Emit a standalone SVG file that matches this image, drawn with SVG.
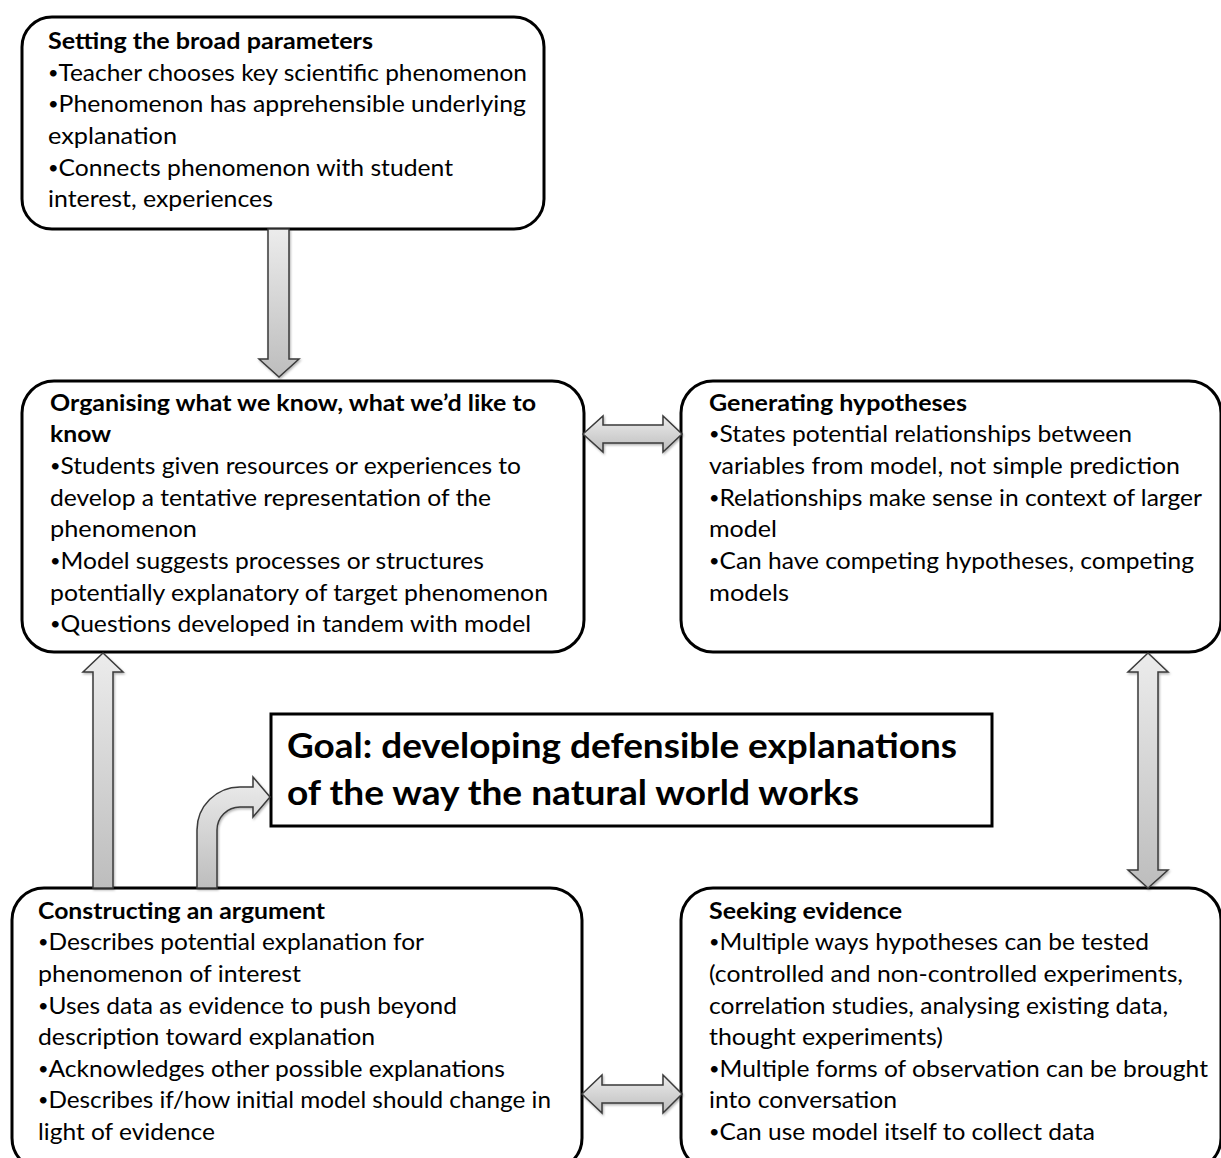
<svg xmlns="http://www.w3.org/2000/svg" width="1221" height="1158" viewBox="0 0 1221 1158">
<style>
.box{fill:#fff;stroke:#000;stroke-width:3}
.t{font-family:Lato,"Liberation Sans",sans-serif;font-size:23px;fill:#000}
.b{font-weight:bold}
.d{font-size:17px;baseline-shift:2px}
.g{font-family:Lato,"Liberation Sans",sans-serif;font-size:35px;font-weight:bold;fill:#000}
.arr{fill:url(#grad);stroke:#3a3a3a;stroke-width:1.5;stroke-linejoin:miter;filter:url(#sh)}
</style>
<defs>
<linearGradient id="grad" x1="0" y1="0" x2="0" y2="1">
<stop offset="0" stop-color="#ececec"/>
<stop offset="1" stop-color="#bdbdbd"/>
</linearGradient>
<filter id="sh" x="-20%" y="-20%" width="140%" height="140%">
<feDropShadow dx="1" dy="1.5" stdDeviation="1.2" flood-color="#000" flood-opacity="0.3"/>
</filter>
</defs>
<rect width="1221" height="1158" fill="#fff"/>

<g id="setting">
<rect class="box" x="22" y="17" width="522" height="212" rx="30"/>
<text class="t b" x="48" y="49" textLength="325" lengthAdjust="spacingAndGlyphs">Setting the broad parameters</text>
<text class="t" x="48" y="81" textLength="479" lengthAdjust="spacingAndGlyphs"><tspan class="d">•</tspan>Teacher chooses key scientific phenomenon</text>
<text class="t" x="48" y="112" textLength="478" lengthAdjust="spacingAndGlyphs"><tspan class="d">•</tspan>Phenomenon has apprehensible underlying</text>
<text class="t" x="48" y="144" textLength="129" lengthAdjust="spacingAndGlyphs">explanation</text>
<text class="t" x="48" y="176" textLength="405" lengthAdjust="spacingAndGlyphs"><tspan class="d">•</tspan>Connects phenomenon with student</text>
<text class="t" x="48" y="207" textLength="225" lengthAdjust="spacingAndGlyphs">interest, experiences</text>
</g>

<g id="organising">
<rect class="box" x="22" y="381" width="562" height="271" rx="32"/>
<text class="t b" x="50" y="411" textLength="486" lengthAdjust="spacingAndGlyphs">Organising what we know, what we’d like to</text>
<text class="t b" x="50" y="442" textLength="61" lengthAdjust="spacingAndGlyphs">know</text>
<text class="t" x="50" y="474" textLength="471" lengthAdjust="spacingAndGlyphs"><tspan class="d">•</tspan>Students given resources or experiences to</text>
<text class="t" x="50" y="506" textLength="441" lengthAdjust="spacingAndGlyphs">develop a tentative representation of the</text>
<text class="t" x="50" y="537" textLength="147" lengthAdjust="spacingAndGlyphs">phenomenon</text>
<text class="t" x="50" y="569" textLength="434" lengthAdjust="spacingAndGlyphs"><tspan class="d">•</tspan>Model suggests processes or structures</text>
<text class="t" x="50" y="601" textLength="498" lengthAdjust="spacingAndGlyphs">potentially explanatory of target phenomenon</text>
<text class="t" x="50" y="632" textLength="481" lengthAdjust="spacingAndGlyphs"><tspan class="d">•</tspan>Questions developed in tandem with model</text>
</g>

<g id="generating">
<rect class="box" x="681" y="381" width="540" height="271" rx="32"/>
<text class="t b" x="709" y="411" textLength="258" lengthAdjust="spacingAndGlyphs">Generating hypotheses</text>
<text class="t" x="709" y="442" textLength="423" lengthAdjust="spacingAndGlyphs"><tspan class="d">•</tspan>States potential relationships between</text>
<text class="t" x="709" y="474" textLength="471" lengthAdjust="spacingAndGlyphs">variables from model, not simple prediction</text>
<text class="t" x="709" y="506" textLength="493" lengthAdjust="spacingAndGlyphs"><tspan class="d">•</tspan>Relationships make sense in context of larger</text>
<text class="t" x="709" y="537" textLength="68" lengthAdjust="spacingAndGlyphs">model</text>
<text class="t" x="709" y="569" textLength="485" lengthAdjust="spacingAndGlyphs"><tspan class="d">•</tspan>Can have competing hypotheses, competing</text>
<text class="t" x="709" y="601" textLength="80" lengthAdjust="spacingAndGlyphs">models</text>
</g>

<g id="goal">
<rect x="271" y="714" width="721" height="112" fill="#fff" stroke="#000" stroke-width="3"/>
<text class="g" x="287" y="758" textLength="670" lengthAdjust="spacingAndGlyphs">Goal: developing defensible explanations</text>
<text class="g" x="287" y="805" textLength="572" lengthAdjust="spacingAndGlyphs">of the way the natural world works</text>
</g>

<g id="constructing">
<rect class="box" x="12" y="888" width="570" height="282" rx="32"/>
<text class="t b" x="38" y="919" textLength="287" lengthAdjust="spacingAndGlyphs">Constructing an argument</text>
<text class="t" x="38" y="950" textLength="386" lengthAdjust="spacingAndGlyphs"><tspan class="d">•</tspan>Describes potential explanation for</text>
<text class="t" x="38" y="982" textLength="263" lengthAdjust="spacingAndGlyphs">phenomenon of interest</text>
<text class="t" x="38" y="1014" textLength="419" lengthAdjust="spacingAndGlyphs"><tspan class="d">•</tspan>Uses data as evidence to push beyond</text>
<text class="t" x="38" y="1045" textLength="337" lengthAdjust="spacingAndGlyphs">description toward explanation</text>
<text class="t" x="38" y="1077" textLength="467" lengthAdjust="spacingAndGlyphs"><tspan class="d">•</tspan>Acknowledges other possible explanations</text>
<text class="t" x="38" y="1108" textLength="513" lengthAdjust="spacingAndGlyphs"><tspan class="d">•</tspan>Describes if/how initial model should change in</text>
<text class="t" x="38" y="1140" textLength="177" lengthAdjust="spacingAndGlyphs">light of evidence</text>
</g>

<g id="seeking">
<rect class="box" x="681" y="888" width="540" height="282" rx="32"/>
<text class="t b" x="709" y="919" textLength="193" lengthAdjust="spacingAndGlyphs">Seeking evidence</text>
<text class="t" x="709" y="950" textLength="440" lengthAdjust="spacingAndGlyphs"><tspan class="d">•</tspan>Multiple ways hypotheses can be tested</text>
<text class="t" x="709" y="982" textLength="474" lengthAdjust="spacingAndGlyphs">(controlled and non-controlled experiments,</text>
<text class="t" x="709" y="1014" textLength="459" lengthAdjust="spacingAndGlyphs">correlation studies, analysing existing data,</text>
<text class="t" x="709" y="1045" textLength="234" lengthAdjust="spacingAndGlyphs">thought experiments)</text>
<text class="t" x="709" y="1077" textLength="499" lengthAdjust="spacingAndGlyphs"><tspan class="d">•</tspan>Multiple forms of observation can be brought</text>
<text class="t" x="709" y="1108" textLength="188" lengthAdjust="spacingAndGlyphs">into conversation</text>
<text class="t" x="709" y="1140" textLength="386" lengthAdjust="spacingAndGlyphs"><tspan class="d">•</tspan>Can use model itself to collect data</text>
</g>

<g id="connectors">
<polygon class="arr" points="268,229 289,229 289,359 299,359 279,377 259,359 268,359"/>
<polygon class="arr" points="583,434 603,416 603,425 663,425 663,416 682,434 663,452 663,443 603,443 603,452"/>
<polygon class="arr" points="1148,653 1168,672 1158,672 1158,870 1168,870 1148,888 1128,870 1138,870 1138,672 1128,672"/>
<polygon class="arr" points="103,653 123,672 113,672 113,888 93,888 93,672 83,672"/>
<polygon class="arr" points="582,1094 602,1075 602,1085 663,1085 663,1075 682,1094 663,1113 663,1103 602,1103 602,1113"/>
<path class="arr" d="M197,888 L197,830 A43,43 0 0 1 240,787 L253,787 L253,777 L270,797 L253,817 L253,807 L240,807 A23,23 0 0 0 217,830 L217,888 Z"/>
</g>
</svg>
